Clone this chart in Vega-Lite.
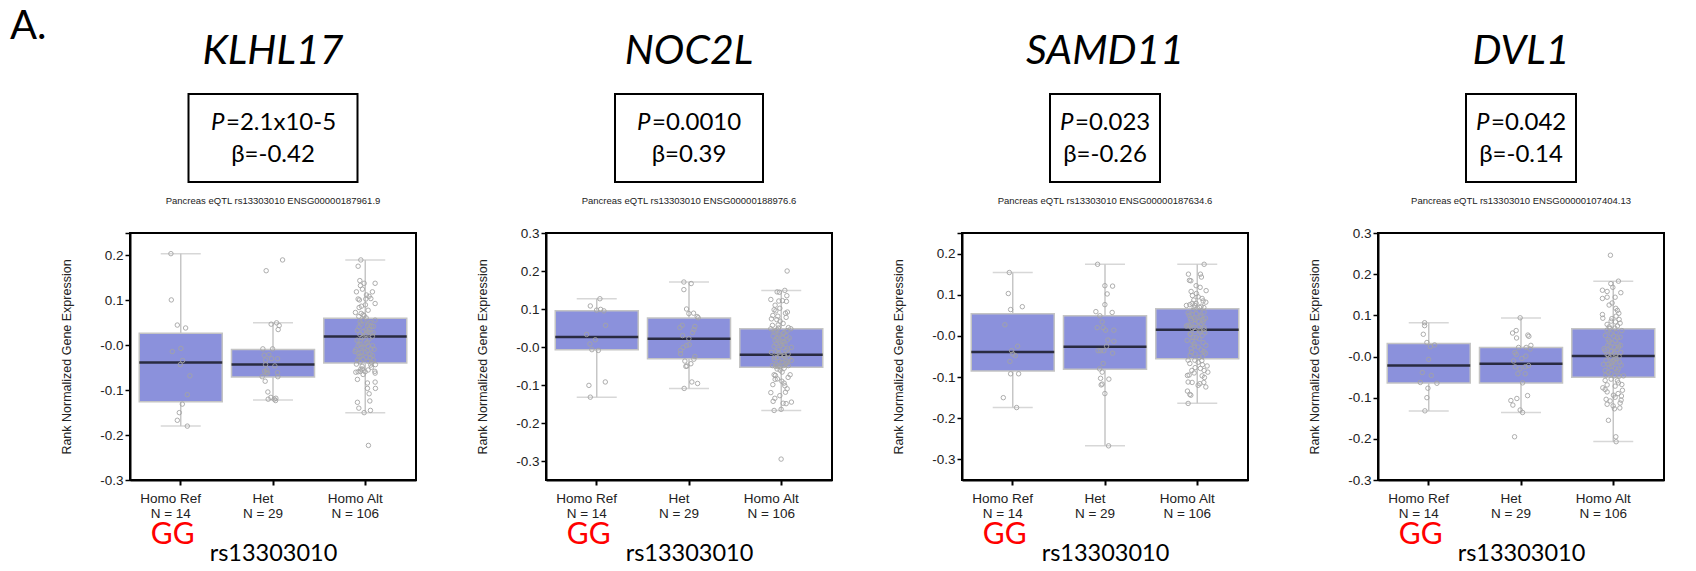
{
"$schema": "https://vega.github.io/schema/vega-lite/v6.json",
"padding": {"left": 10, "top": 7, "right": 5, "bottom": 0},
"background": "white",
"config": {"view": {"stroke": "black", "strokeWidth": 2}, "axis": {"grid": false, "labelFont": "Liberation Sans", "labelFontSize": 13.5, "labelColor": "#222", "labelOverlap": false}, "title": {"color": "black"}},
"title": {"text": "A.", "anchor": "start", "frame": "group", "font": "Lato", "fontSize": 40, "fontWeight": "normal", "color": "black", "dx": -120, "offset": -16},
"spacing": 58,
"datasets": {
"h1": [{"plabel": "P", "pvalue": "=2.1x10-5", "beta": "β=-0.42"}],
"h2": [{"plabel": "P", "pvalue": "=0.0010", "beta": "β=0.39"}],
"h3": [{"plabel": "P", "pvalue": "=0.023", "beta": "β=-0.26"}],
"h4": [{"plabel": "P", "pvalue": "=0.042", "beta": "β=-0.14"}],
"b1": [{"genotype":"Homo Ref","lo":-0.180,"q1":-0.126,"median":-0.0385,"q3":0.0267,"hi":0.204},{"genotype":"Het","lo":-0.122,"q1":-0.0704,"median":-0.043,"q3":-0.0096,"hi":0.050},{"genotype":"Homo Alt","lo":-0.150,"q1":-0.0393,"median":0.0193,"q3":0.060,"hi":0.190}],
"b2": [{"genotype":"Homo Ref","lo":-0.132,"q1":-0.0075,"median":0.026,"q3":0.0953,"hi":0.127},{"genotype":"Het","lo":-0.109,"q1":-0.0312,"median":0.0215,"q3":0.076,"hi":0.171},{"genotype":"Homo Alt","lo":-0.1674,"q1":-0.0531,"median":-0.0207,"q3":0.0478,"hi":0.149}],
"b3": [{"genotype":"Homo Ref","lo":-0.174,"q1":-0.0851,"median":-0.0391,"q3":0.0538,"hi":0.154},{"genotype":"Het","lo":-0.267,"q1":-0.0811,"median":-0.0262,"q3":0.049,"hi":0.174},{"genotype":"Homo Alt","lo":-0.1635,"q1":-0.0552,"median":0.015,"q3":0.0659,"hi":0.174}],
"b4": [{"genotype":"Homo Ref","lo":-0.1322,"q1":-0.0643,"median":-0.0217,"q3":0.0315,"hi":0.0822},{"genotype":"Het","lo":-0.1363,"q1":-0.0643,"median":-0.0176,"q3":0.0217,"hi":0.0937},{"genotype":"Homo Alt","lo":-0.2067,"q1":-0.0504,"median":0.0012,"q3":0.0675,"hi":0.1829}],
"p1": [
{"genotype":"Homo Ref","expression":0.204,"jitter":-9.7},{"genotype":"Homo Ref","expression":0.101,"jitter":-9.3},{"genotype":"Homo Ref","expression":0.045,"jitter":-3.3},{"genotype":"Homo Ref","expression":0.0385,"jitter":5},{"genotype":"Homo Ref","expression":-0.014,"jitter":-8.3},{"genotype":"Homo Ref","expression":-0.007,"jitter":0.3},{"genotype":"Homo Ref","expression":-0.034,"jitter":2},{"genotype":"Homo Ref","expression":-0.043,"jitter":-0.3},{"genotype":"Homo Ref","expression":-0.068,"jitter":9.3},{"genotype":"Homo Ref","expression":-0.110,"jitter":6.7},{"genotype":"Homo Ref","expression":-0.131,"jitter":1.7},{"genotype":"Homo Ref","expression":-0.150,"jitter":-1.3},{"genotype":"Homo Ref","expression":-0.167,"jitter":-3.3},{"genotype":"Homo Ref","expression":-0.180,"jitter":6.7},
{"genotype":"Het","expression":0.190,"jitter":9.7},{"genotype":"Het","expression":0.166,"jitter":-6.7},{"genotype":"Het","expression":0.047,"jitter":-1.7},{"genotype":"Het","expression":0.050,"jitter":3.7},{"genotype":"Het","expression":0.044,"jitter":6.3},{"genotype":"Het","expression":0.035,"jitter":5.3},{"genotype":"Het","expression":-0.008,"jitter":-10},{"genotype":"Het","expression":-0.008,"jitter":-0.3},{"genotype":"Het","expression":-0.022,"jitter":-8.7},{"genotype":"Het","expression":-0.033,"jitter":-7.3},{"genotype":"Het","expression":-0.030,"jitter":-1.3},{"genotype":"Het","expression":-0.030,"jitter":4.7},{"genotype":"Het","expression":-0.043,"jitter":-7.3},{"genotype":"Het","expression":-0.058,"jitter":-8.3},{"genotype":"Het","expression":-0.061,"jitter":-6.7},{"genotype":"Het","expression":-0.062,"jitter":-5.3},{"genotype":"Het","expression":-0.061,"jitter":4.7},{"genotype":"Het","expression":-0.070,"jitter":-10.7},{"genotype":"Het","expression":-0.070,"jitter":5},{"genotype":"Het","expression":-0.080,"jitter":-7.7},{"genotype":"Het","expression":-0.104,"jitter":-5},{"genotype":"Het","expression":-0.116,"jitter":-2},{"genotype":"Het","expression":-0.120,"jitter":-4.7},{"genotype":"Het","expression":-0.120,"jitter":1.3},{"genotype":"Het","expression":-0.118,"jitter":3},{"genotype":"Het","expression":-0.123,"jitter":2.7},{"genotype":"Het","expression":-0.055,"jitter":-6},{"genotype":"Het","expression":-0.046,"jitter":2},{"genotype":"Het","expression":-0.021,"jitter":-4},
{"genotype":"Homo Alt","expression":0.190,"jitter":-4.3},{"genotype":"Homo Alt","expression":0.176,"jitter":-7},{"genotype":"Homo Alt","expression":0.144,"jitter":-5.3},{"genotype":"Homo Alt","expression":0.138,"jitter":-1},{"genotype":"Homo Alt","expression":0.138,"jitter":10},{"genotype":"Homo Alt","expression":0.133,"jitter":-4.7},{"genotype":"Homo Alt","expression":0.125,"jitter":-2.7},{"genotype":"Homo Alt","expression":0.119,"jitter":-8.7},{"genotype":"Homo Alt","expression":0.119,"jitter":7.3},{"genotype":"Homo Alt","expression":0.112,"jitter":1.3},{"genotype":"Homo Alt","expression":0.109,"jitter":4},{"genotype":"Homo Alt","expression":0.104,"jitter":5.7},{"genotype":"Homo Alt","expression":0.103,"jitter":-7},{"genotype":"Homo Alt","expression":0.101,"jitter":-5.7},{"genotype":"Homo Alt","expression":0.103,"jitter":0.7},{"genotype":"Homo Alt","expression":0.093,"jitter":10},{"genotype":"Homo Alt","expression":0.090,"jitter":0.3},{"genotype":"Homo Alt","expression":0.087,"jitter":-3.7},{"genotype":"Homo Alt","expression":0.084,"jitter":-6},{"genotype":"Homo Alt","expression":0.073,"jitter":-9.7},{"genotype":"Homo Alt","expression":0.071,"jitter":-4},{"genotype":"Homo Alt","expression":0.068,"jitter":-2},{"genotype":"Homo Alt","expression":0.064,"jitter":-6.3},{"genotype":"Homo Alt","expression":0.061,"jitter":1},{"genotype":"Homo Alt","expression":0.078,"jitter":3},{"genotype":"Homo Alt","expression":0.066,"jitter":-1},
{"genotype":"Homo Alt","expression":0.056,"jitter":10},{"genotype":"Homo Alt","expression":0.052,"jitter":-5},{"genotype":"Homo Alt","expression":0.051,"jitter":5},{"genotype":"Homo Alt","expression":0.047,"jitter":-4},{"genotype":"Homo Alt","expression":0.044,"jitter":2.3},{"genotype":"Homo Alt","expression":0.042,"jitter":6.3},{"genotype":"Homo Alt","expression":0.042,"jitter":8.3},{"genotype":"Homo Alt","expression":0.033,"jitter":-7.7},{"genotype":"Homo Alt","expression":0.034,"jitter":1},{"genotype":"Homo Alt","expression":0.030,"jitter":3},{"genotype":"Homo Alt","expression":0.027,"jitter":5.7},{"genotype":"Homo Alt","expression":0.024,"jitter":-5.3},{"genotype":"Homo Alt","expression":0.020,"jitter":-1},{"genotype":"Homo Alt","expression":0.020,"jitter":7.3},{"genotype":"Homo Alt","expression":0.010,"jitter":-5},{"genotype":"Homo Alt","expression":0.007,"jitter":2.3},{"genotype":"Homo Alt","expression":-0.001,"jitter":-7},{"genotype":"Homo Alt","expression":-0.001,"jitter":7.3},{"genotype":"Homo Alt","expression":-0.004,"jitter":-3.3},{"genotype":"Homo Alt","expression":-0.010,"jitter":-9.3},{"genotype":"Homo Alt","expression":-0.014,"jitter":-10},{"genotype":"Homo Alt","expression":-0.008,"jitter":5.7},{"genotype":"Homo Alt","expression":-0.018,"jitter":-6.3},{"genotype":"Homo Alt","expression":-0.016,"jitter":0.3},{"genotype":"Homo Alt","expression":-0.023,"jitter":7.3},{"genotype":"Homo Alt","expression":-0.024,"jitter":-4},{"genotype":"Homo Alt","expression":-0.028,"jitter":5},{"genotype":"Homo Alt","expression":-0.033,"jitter":-7.7},{"genotype":"Homo Alt","expression":-0.033,"jitter":8.3},{"genotype":"Homo Alt","expression":-0.038,"jitter":6.3},
{"genotype":"Homo Alt","expression":0.055,"jitter":-2},{"genotype":"Homo Alt","expression":0.048,"jitter":3},{"genotype":"Homo Alt","expression":0.041,"jitter":-6},{"genotype":"Homo Alt","expression":0.036,"jitter":4},{"genotype":"Homo Alt","expression":0.031,"jitter":-2},{"genotype":"Homo Alt","expression":0.028,"jitter":8},{"genotype":"Homo Alt","expression":0.024,"jitter":1},{"genotype":"Homo Alt","expression":0.017,"jitter":-3},{"genotype":"Homo Alt","expression":0.014,"jitter":4},{"genotype":"Homo Alt","expression":0.011,"jitter":-8},{"genotype":"Homo Alt","expression":0.004,"jitter":1},{"genotype":"Homo Alt","expression":0.002,"jitter":-5},{"genotype":"Homo Alt","expression":-0.002,"jitter":3},{"genotype":"Homo Alt","expression":-0.006,"jitter":-1},{"genotype":"Homo Alt","expression":-0.009,"jitter":9},{"genotype":"Homo Alt","expression":-0.012,"jitter":2},{"genotype":"Homo Alt","expression":-0.016,"jitter":-4},{"genotype":"Homo Alt","expression":-0.020,"jitter":5},{"genotype":"Homo Alt","expression":-0.025,"jitter":-6},{"genotype":"Homo Alt","expression":-0.027,"jitter":1},{"genotype":"Homo Alt","expression":-0.031,"jitter":-2},{"genotype":"Homo Alt","expression":-0.035,"jitter":3},{"genotype":"Homo Alt","expression":-0.037,"jitter":-5},
{"genotype":"Homo Alt","expression":-0.042,"jitter":-8.7},{"genotype":"Homo Alt","expression":-0.044,"jitter":5.7},{"genotype":"Homo Alt","expression":-0.043,"jitter":10.3},{"genotype":"Homo Alt","expression":-0.049,"jitter":6.3},{"genotype":"Homo Alt","expression":-0.053,"jitter":-4.3},{"genotype":"Homo Alt","expression":-0.053,"jitter":-2.7},{"genotype":"Homo Alt","expression":-0.060,"jitter":-9.3},{"genotype":"Homo Alt","expression":-0.059,"jitter":-7},{"genotype":"Homo Alt","expression":-0.058,"jitter":-4.7},{"genotype":"Homo Alt","expression":-0.059,"jitter":0},{"genotype":"Homo Alt","expression":-0.058,"jitter":9.7},{"genotype":"Homo Alt","expression":-0.062,"jitter":10},{"genotype":"Homo Alt","expression":-0.076,"jitter":-7.7},{"genotype":"Homo Alt","expression":-0.084,"jitter":2.3},{"genotype":"Homo Alt","expression":-0.082,"jitter":10},{"genotype":"Homo Alt","expression":-0.096,"jitter":2.3},{"genotype":"Homo Alt","expression":-0.096,"jitter":10.3},{"genotype":"Homo Alt","expression":-0.108,"jitter":4},{"genotype":"Homo Alt","expression":-0.127,"jitter":-7.7},{"genotype":"Homo Alt","expression":-0.124,"jitter":4.7},{"genotype":"Homo Alt","expression":-0.140,"jitter":-6.3},{"genotype":"Homo Alt","expression":-0.145,"jitter":5.3},{"genotype":"Homo Alt","expression":-0.150,"jitter":-1},{"genotype":"Homo Alt","expression":-0.223,"jitter":3.3},{"genotype":"Homo Alt","expression":-0.047,"jitter":-3},{"genotype":"Homo Alt","expression":-0.055,"jitter":3},{"genotype":"Homo Alt","expression":-0.065,"jitter":-2}
],
"p2": [
{"genotype":"Homo Ref","expression":0.127,"jitter":3.3},{"genotype":"Homo Ref","expression":0.108,"jitter":-6.3},{"genotype":"Homo Ref","expression":0.097,"jitter":0},{"genotype":"Homo Ref","expression":0.099,"jitter":4},{"genotype":"Homo Ref","expression":0.095,"jitter":7.3},{"genotype":"Homo Ref","expression":0.057,"jitter":9},{"genotype":"Homo Ref","expression":0.033,"jitter":-10},{"genotype":"Homo Ref","expression":0.019,"jitter":-1.3},{"genotype":"Homo Ref","expression":0.008,"jitter":-6.7},{"genotype":"Homo Ref","expression":-0.007,"jitter":-4.7},{"genotype":"Homo Ref","expression":-0.009,"jitter":1.7},{"genotype":"Homo Ref","expression":-0.101,"jitter":-7.7},{"genotype":"Homo Ref","expression":-0.092,"jitter":8.7},{"genotype":"Homo Ref","expression":-0.132,"jitter":-6.3},
{"genotype":"Het","expression":0.171,"jitter":-5},{"genotype":"Het","expression":0.167,"jitter":2.3},{"genotype":"Het","expression":0.151,"jitter":-5},{"genotype":"Het","expression":0.100,"jitter":-2.3},{"genotype":"Het","expression":0.088,"jitter":0},{"genotype":"Het","expression":0.089,"jitter":4.7},{"genotype":"Het","expression":0.080,"jitter":8.3},{"genotype":"Het","expression":0.077,"jitter":9.3},{"genotype":"Het","expression":0.057,"jitter":-6.7},{"genotype":"Het","expression":0.051,"jitter":-9},{"genotype":"Het","expression":0.054,"jitter":6},{"genotype":"Het","expression":0.046,"jitter":5},{"genotype":"Het","expression":0.038,"jitter":3.7},{"genotype":"Het","expression":0.030,"jitter":-6.3},{"genotype":"Het","expression":0.022,"jitter":0},{"genotype":"Het","expression":0.006,"jitter":0.3},{"genotype":"Het","expression":0.004,"jitter":-2.3},{"genotype":"Het","expression":-0.001,"jitter":-5.7},{"genotype":"Het","expression":-0.009,"jitter":-8.3},{"genotype":"Het","expression":-0.018,"jitter":-8.3},{"genotype":"Het","expression":-0.025,"jitter":6},{"genotype":"Het","expression":-0.032,"jitter":5},{"genotype":"Het","expression":-0.037,"jitter":-4},{"genotype":"Het","expression":-0.044,"jitter":2},{"genotype":"Het","expression":-0.051,"jitter":-3},{"genotype":"Het","expression":-0.050,"jitter":-2},{"genotype":"Het","expression":-0.092,"jitter":3},{"genotype":"Het","expression":-0.096,"jitter":8.7},{"genotype":"Het","expression":-0.109,"jitter":-4.7},
{"genotype":"Homo Alt","expression":0.200,"jitter":6},{"genotype":"Homo Alt","expression":0.145,"jitter":-4},{"genotype":"Homo Alt","expression":0.144,"jitter":-1.7},{"genotype":"Homo Alt","expression":0.149,"jitter":3.7},{"genotype":"Homo Alt","expression":0.135,"jitter":5.7},{"genotype":"Homo Alt","expression":0.125,"jitter":-10.3},{"genotype":"Homo Alt","expression":0.121,"jitter":-2.3},{"genotype":"Homo Alt","expression":0.122,"jitter":1.3},{"genotype":"Homo Alt","expression":0.120,"jitter":5.3},{"genotype":"Homo Alt","expression":0.098,"jitter":-7},{"genotype":"Homo Alt","expression":0.095,"jitter":-5.3},{"genotype":"Homo Alt","expression":0.102,"jitter":-1.3},{"genotype":"Homo Alt","expression":0.092,"jitter":6.3},{"genotype":"Homo Alt","expression":0.089,"jitter":4.3},{"genotype":"Homo Alt","expression":0.083,"jitter":-8.3},{"genotype":"Homo Alt","expression":0.081,"jitter":-3.3},{"genotype":"Homo Alt","expression":0.074,"jitter":-9.7},{"genotype":"Homo Alt","expression":0.072,"jitter":-4.3},{"genotype":"Homo Alt","expression":0.057,"jitter":-8.7},{"genotype":"Homo Alt","expression":0.050,"jitter":-2.7},{"genotype":"Homo Alt","expression":0.051,"jitter":7.3},{"genotype":"Homo Alt","expression":0.062,"jitter":2},{"genotype":"Homo Alt","expression":0.068,"jitter":-1},{"genotype":"Homo Alt","expression":0.110,"jitter":-6},{"genotype":"Homo Alt","expression":0.078,"jitter":5},{"genotype":"Homo Alt","expression":0.058,"jitter":-3},
{"genotype":"Homo Alt","expression":0.048,"jitter":-10.3},{"genotype":"Homo Alt","expression":0.048,"jitter":9.7},{"genotype":"Homo Alt","expression":0.042,"jitter":-5.7},{"genotype":"Homo Alt","expression":0.038,"jitter":3},{"genotype":"Homo Alt","expression":0.032,"jitter":-2},{"genotype":"Homo Alt","expression":0.029,"jitter":-8},{"genotype":"Homo Alt","expression":0.023,"jitter":1.7},{"genotype":"Homo Alt","expression":0.022,"jitter":-4.3},{"genotype":"Homo Alt","expression":0.019,"jitter":6.3},{"genotype":"Homo Alt","expression":0.013,"jitter":3},{"genotype":"Homo Alt","expression":0.008,"jitter":-5},{"genotype":"Homo Alt","expression":0.004,"jitter":0},{"genotype":"Homo Alt","expression":-0.001,"jitter":10.3},{"genotype":"Homo Alt","expression":-0.005,"jitter":6.7},{"genotype":"Homo Alt","expression":-0.014,"jitter":-9.7},{"genotype":"Homo Alt","expression":-0.015,"jitter":-2.3},{"genotype":"Homo Alt","expression":-0.021,"jitter":3},{"genotype":"Homo Alt","expression":-0.027,"jitter":-6.7},{"genotype":"Homo Alt","expression":-0.030,"jitter":8},{"genotype":"Homo Alt","expression":-0.035,"jitter":10.3},{"genotype":"Homo Alt","expression":-0.037,"jitter":5.7},{"genotype":"Homo Alt","expression":-0.040,"jitter":0.7},{"genotype":"Homo Alt","expression":-0.044,"jitter":4.7},{"genotype":"Homo Alt","expression":-0.049,"jitter":-8.7},{"genotype":"Homo Alt","expression":-0.051,"jitter":-5.7},{"genotype":"Homo Alt","expression":-0.051,"jitter":-3.3},{"genotype":"Homo Alt","expression":-0.049,"jitter":7.3},
{"genotype":"Homo Alt","expression":0.045,"jitter":-4},{"genotype":"Homo Alt","expression":0.043,"jitter":6},{"genotype":"Homo Alt","expression":0.039,"jitter":-7},{"genotype":"Homo Alt","expression":0.035,"jitter":2},{"genotype":"Homo Alt","expression":0.030,"jitter":5},{"genotype":"Homo Alt","expression":0.026,"jitter":-3},{"genotype":"Homo Alt","expression":0.024,"jitter":8},{"genotype":"Homo Alt","expression":0.017,"jitter":-6},{"genotype":"Homo Alt","expression":0.015,"jitter":1},{"genotype":"Homo Alt","expression":0.010,"jitter":-1},{"genotype":"Homo Alt","expression":0.006,"jitter":4},{"genotype":"Homo Alt","expression":0.002,"jitter":-7},{"genotype":"Homo Alt","expression":-0.002,"jitter":2},{"genotype":"Homo Alt","expression":-0.007,"jitter":-3},{"genotype":"Homo Alt","expression":-0.009,"jitter":5},{"genotype":"Homo Alt","expression":-0.012,"jitter":-5},{"genotype":"Homo Alt","expression":-0.018,"jitter":7},{"genotype":"Homo Alt","expression":-0.022,"jitter":-1},{"genotype":"Homo Alt","expression":-0.025,"jitter":3},{"genotype":"Homo Alt","expression":-0.028,"jitter":-4},{"genotype":"Homo Alt","expression":-0.031,"jitter":1},{"genotype":"Homo Alt","expression":-0.033,"jitter":-7},{"genotype":"Homo Alt","expression":-0.038,"jitter":-2},{"genotype":"Homo Alt","expression":-0.042,"jitter":6},{"genotype":"Homo Alt","expression":-0.046,"jitter":-5},{"genotype":"Homo Alt","expression":-0.049,"jitter":2},{"genotype":"Homo Alt","expression":-0.052,"jitter":-1},
{"genotype":"Homo Alt","expression":-0.061,"jitter":-1},{"genotype":"Homo Alt","expression":-0.073,"jitter":-7},{"genotype":"Homo Alt","expression":-0.075,"jitter":-5.7},{"genotype":"Homo Alt","expression":-0.073,"jitter":9},{"genotype":"Homo Alt","expression":-0.080,"jitter":7},{"genotype":"Homo Alt","expression":-0.084,"jitter":-3.7},{"genotype":"Homo Alt","expression":-0.090,"jitter":0.7},{"genotype":"Homo Alt","expression":-0.095,"jitter":3},{"genotype":"Homo Alt","expression":-0.099,"jitter":-8.3},{"genotype":"Homo Alt","expression":-0.102,"jitter":3.7},{"genotype":"Homo Alt","expression":-0.119,"jitter":4.3},{"genotype":"Homo Alt","expression":-0.120,"jitter":-10.3},{"genotype":"Homo Alt","expression":-0.128,"jitter":-1.3},{"genotype":"Homo Alt","expression":-0.135,"jitter":-6.3},{"genotype":"Homo Alt","expression":-0.143,"jitter":-8},{"genotype":"Homo Alt","expression":-0.148,"jitter":2},{"genotype":"Homo Alt","expression":-0.149,"jitter":5},{"genotype":"Homo Alt","expression":-0.145,"jitter":10.3},{"genotype":"Homo Alt","expression":-0.167,"jitter":-7},{"genotype":"Homo Alt","expression":-0.164,"jitter":0},{"genotype":"Homo Alt","expression":-0.295,"jitter":0},{"genotype":"Homo Alt","expression":-0.056,"jitter":3},{"genotype":"Homo Alt","expression":-0.058,"jitter":-4},{"genotype":"Homo Alt","expression":-0.066,"jitter":1},{"genotype":"Homo Alt","expression":-0.085,"jitter":-6},{"genotype":"Homo Alt","expression":-0.110,"jitter":6}
],
"p3": [
{"genotype":"Homo Ref","expression":0.154,"jitter":-3.3},{"genotype":"Homo Ref","expression":0.103,"jitter":-4.3},{"genotype":"Homo Ref","expression":0.064,"jitter":-2},{"genotype":"Homo Ref","expression":0.071,"jitter":9.7},{"genotype":"Homo Ref","expression":0.027,"jitter":-7.7},{"genotype":"Homo Ref","expression":-0.025,"jitter":5},{"genotype":"Homo Ref","expression":-0.044,"jitter":0.3},{"genotype":"Homo Ref","expression":-0.048,"jitter":2.7},{"genotype":"Homo Ref","expression":-0.062,"jitter":-2.7},{"genotype":"Homo Ref","expression":-0.092,"jitter":-2},{"genotype":"Homo Ref","expression":-0.092,"jitter":6},{"genotype":"Homo Ref","expression":-0.150,"jitter":-9.3},{"genotype":"Homo Ref","expression":-0.174,"jitter":4},{"genotype":"Homo Ref","expression":-0.036,"jitter":-1},
{"genotype":"Het","expression":0.174,"jitter":-7.3},{"genotype":"Het","expression":0.122,"jitter":0},{"genotype":"Het","expression":0.121,"jitter":7.7},{"genotype":"Het","expression":0.102,"jitter":2.3},{"genotype":"Het","expression":0.076,"jitter":0},{"genotype":"Het","expression":0.059,"jitter":-9},{"genotype":"Het","expression":0.057,"jitter":7.3},{"genotype":"Het","expression":0.049,"jitter":-5},{"genotype":"Het","expression":0.034,"jitter":-2.7},{"genotype":"Het","expression":0.020,"jitter":-7.7},{"genotype":"Het","expression":0.020,"jitter":-1.7},{"genotype":"Het","expression":0.014,"jitter":0.7},{"genotype":"Het","expression":0.014,"jitter":9},{"genotype":"Het","expression":-0.013,"jitter":9},{"genotype":"Het","expression":-0.025,"jitter":1.7},{"genotype":"Het","expression":-0.036,"jitter":-6.7},{"genotype":"Het","expression":-0.036,"jitter":-4.3},{"genotype":"Het","expression":-0.036,"jitter":-1},{"genotype":"Het","expression":-0.042,"jitter":7.7},{"genotype":"Het","expression":-0.067,"jitter":-1.7},{"genotype":"Het","expression":-0.080,"jitter":-5.3},{"genotype":"Het","expression":-0.088,"jitter":-2.7},{"genotype":"Het","expression":-0.103,"jitter":-4.3},{"genotype":"Het","expression":-0.105,"jitter":4},{"genotype":"Het","expression":-0.117,"jitter":-2.7},{"genotype":"Het","expression":-0.119,"jitter":-3.7},{"genotype":"Het","expression":-0.140,"jitter":0},{"genotype":"Het","expression":-0.267,"jitter":3.7},{"genotype":"Het","expression":-0.010,"jitter":3},
{"genotype":"Homo Alt","expression":0.174,"jitter":7},{"genotype":"Homo Alt","expression":0.150,"jitter":-8.7},{"genotype":"Homo Alt","expression":0.150,"jitter":3.3},{"genotype":"Homo Alt","expression":0.143,"jitter":4.3},{"genotype":"Homo Alt","expression":0.135,"jitter":-7.7},{"genotype":"Homo Alt","expression":0.134,"jitter":-6.3},{"genotype":"Homo Alt","expression":0.122,"jitter":-1},{"genotype":"Homo Alt","expression":0.103,"jitter":-0.7},{"genotype":"Homo Alt","expression":0.098,"jitter":-4.7},{"genotype":"Homo Alt","expression":0.091,"jitter":5},{"genotype":"Homo Alt","expression":0.087,"jitter":-3.3},{"genotype":"Homo Alt","expression":0.082,"jitter":8.7},{"genotype":"Homo Alt","expression":0.074,"jitter":-10.7},{"genotype":"Homo Alt","expression":0.076,"jitter":-7.3},{"genotype":"Homo Alt","expression":0.079,"jitter":-5},{"genotype":"Homo Alt","expression":0.074,"jitter":-2.3},{"genotype":"Homo Alt","expression":0.069,"jitter":2.7},{"genotype":"Homo Alt","expression":0.069,"jitter":6.7},{"genotype":"Homo Alt","expression":0.118,"jitter":3},{"genotype":"Homo Alt","expression":0.108,"jitter":-6},{"genotype":"Homo Alt","expression":0.095,"jitter":1},{"genotype":"Homo Alt","expression":0.085,"jitter":6},{"genotype":"Homo Alt","expression":0.079,"jitter":-1},{"genotype":"Homo Alt","expression":0.072,"jitter":4},{"genotype":"Homo Alt","expression":0.068,"jitter":-3},{"genotype":"Homo Alt","expression":0.110,"jitter":9},
{"genotype":"Homo Alt","expression":0.056,"jitter":-9},{"genotype":"Homo Alt","expression":0.051,"jitter":-5},{"genotype":"Homo Alt","expression":0.048,"jitter":4},{"genotype":"Homo Alt","expression":0.043,"jitter":8.3},{"genotype":"Homo Alt","expression":0.042,"jitter":-6.7},{"genotype":"Homo Alt","expression":0.039,"jitter":-1.7},{"genotype":"Homo Alt","expression":0.034,"jitter":6},{"genotype":"Homo Alt","expression":0.024,"jitter":-10.7},{"genotype":"Homo Alt","expression":0.024,"jitter":-7.3},{"genotype":"Homo Alt","expression":0.021,"jitter":-3.3},{"genotype":"Homo Alt","expression":0.021,"jitter":6.7},{"genotype":"Homo Alt","expression":0.013,"jitter":2.7},{"genotype":"Homo Alt","expression":0.003,"jitter":-6.7},{"genotype":"Homo Alt","expression":-0.003,"jitter":-4},{"genotype":"Homo Alt","expression":0.008,"jitter":7.7},{"genotype":"Homo Alt","expression":-0.011,"jitter":-10},{"genotype":"Homo Alt","expression":-0.025,"jitter":-3},{"genotype":"Homo Alt","expression":-0.023,"jitter":8.7},{"genotype":"Homo Alt","expression":-0.038,"jitter":6.7},{"genotype":"Homo Alt","expression":-0.042,"jitter":8.3},{"genotype":"Homo Alt","expression":-0.039,"jitter":-5.7},{"genotype":"Homo Alt","expression":-0.050,"jitter":5.3},
{"genotype":"Homo Alt","expression":0.062,"jitter":-4},{"genotype":"Homo Alt","expression":0.060,"jitter":2},{"genotype":"Homo Alt","expression":0.058,"jitter":7},{"genotype":"Homo Alt","expression":0.054,"jitter":-1},{"genotype":"Homo Alt","expression":0.050,"jitter":-8},{"genotype":"Homo Alt","expression":0.046,"jitter":3},{"genotype":"Homo Alt","expression":0.044,"jitter":-3},{"genotype":"Homo Alt","expression":0.040,"jitter":6},{"genotype":"Homo Alt","expression":0.037,"jitter":-6},{"genotype":"Homo Alt","expression":0.035,"jitter":1},{"genotype":"Homo Alt","expression":0.030,"jitter":-2},{"genotype":"Homo Alt","expression":0.028,"jitter":4},{"genotype":"Homo Alt","expression":0.026,"jitter":-9},{"genotype":"Homo Alt","expression":0.022,"jitter":2},{"genotype":"Homo Alt","expression":0.018,"jitter":-5},{"genotype":"Homo Alt","expression":0.016,"jitter":7},{"genotype":"Homo Alt","expression":0.011,"jitter":-2},{"genotype":"Homo Alt","expression":0.009,"jitter":3},{"genotype":"Homo Alt","expression":0.005,"jitter":-7},{"genotype":"Homo Alt","expression":0.001,"jitter":5},{"genotype":"Homo Alt","expression":-0.004,"jitter":-1},{"genotype":"Homo Alt","expression":-0.007,"jitter":2},{"genotype":"Homo Alt","expression":-0.013,"jitter":-5},{"genotype":"Homo Alt","expression":-0.016,"jitter":6},{"genotype":"Homo Alt","expression":-0.019,"jitter":-3},{"genotype":"Homo Alt","expression":-0.027,"jitter":1},{"genotype":"Homo Alt","expression":-0.031,"jitter":-6},{"genotype":"Homo Alt","expression":-0.034,"jitter":4},{"genotype":"Homo Alt","expression":-0.044,"jitter":-2},{"genotype":"Homo Alt","expression":-0.047,"jitter":-7},{"genotype":"Homo Alt","expression":-0.052,"jitter":2},
{"genotype":"Homo Alt","expression":-0.059,"jitter":-9},{"genotype":"Homo Alt","expression":-0.059,"jitter":-2.3},{"genotype":"Homo Alt","expression":-0.060,"jitter":4.7},{"genotype":"Homo Alt","expression":-0.067,"jitter":-7.3},{"genotype":"Homo Alt","expression":-0.070,"jitter":5.3},{"genotype":"Homo Alt","expression":-0.073,"jitter":10},{"genotype":"Homo Alt","expression":-0.084,"jitter":-5.3},{"genotype":"Homo Alt","expression":-0.079,"jitter":3.3},{"genotype":"Homo Alt","expression":-0.084,"jitter":7},{"genotype":"Homo Alt","expression":-0.088,"jitter":10.7},{"genotype":"Homo Alt","expression":-0.096,"jitter":-9.7},{"genotype":"Homo Alt","expression":-0.095,"jitter":-8},{"genotype":"Homo Alt","expression":-0.097,"jitter":5},{"genotype":"Homo Alt","expression":-0.101,"jitter":7.3},{"genotype":"Homo Alt","expression":-0.112,"jitter":-9},{"genotype":"Homo Alt","expression":-0.113,"jitter":-5},{"genotype":"Homo Alt","expression":-0.116,"jitter":2.7},{"genotype":"Homo Alt","expression":-0.113,"jitter":6.7},{"genotype":"Homo Alt","expression":-0.120,"jitter":1},{"genotype":"Homo Alt","expression":-0.124,"jitter":8.7},{"genotype":"Homo Alt","expression":-0.134,"jitter":-9.7},{"genotype":"Homo Alt","expression":-0.142,"jitter":-7.3},{"genotype":"Homo Alt","expression":-0.144,"jitter":-6.3},{"genotype":"Homo Alt","expression":-0.164,"jitter":-9},{"genotype":"Homo Alt","expression":-0.064,"jitter":1},{"genotype":"Homo Alt","expression":-0.090,"jitter":-3},{"genotype":"Homo Alt","expression":-0.077,"jitter":-2}
],
"p4": [
{"genotype":"Homo Ref","expression":0.082,"jitter":-4},{"genotype":"Homo Ref","expression":0.075,"jitter":-4},{"genotype":"Homo Ref","expression":0.054,"jitter":-5.3},{"genotype":"Homo Ref","expression":0.034,"jitter":-1.7},{"genotype":"Homo Ref","expression":0.024,"jitter":1.7},{"genotype":"Homo Ref","expression":0.028,"jitter":6},{"genotype":"Homo Ref","expression":-0.007,"jitter":0},{"genotype":"Homo Ref","expression":-0.039,"jitter":-6.3},{"genotype":"Homo Ref","expression":-0.046,"jitter":2.7},{"genotype":"Homo Ref","expression":-0.063,"jitter":-8.3},{"genotype":"Homo Ref","expression":-0.065,"jitter":8.3},{"genotype":"Homo Ref","expression":-0.077,"jitter":-0.7},{"genotype":"Homo Ref","expression":-0.100,"jitter":-1.7},{"genotype":"Homo Ref","expression":-0.132,"jitter":-3.7},
{"genotype":"Het","expression":0.094,"jitter":-0.7},{"genotype":"Het","expression":0.063,"jitter":-4.7},{"genotype":"Het","expression":0.057,"jitter":-8.3},{"genotype":"Het","expression":0.052,"jitter":7},{"genotype":"Het","expression":0.049,"jitter":8},{"genotype":"Het","expression":0.045,"jitter":-4.3},{"genotype":"Het","expression":0.027,"jitter":10},{"genotype":"Het","expression":0.022,"jitter":-2.3},{"genotype":"Het","expression":0.018,"jitter":9.3},{"genotype":"Het","expression":0.022,"jitter":5.3},{"genotype":"Het","expression":0.005,"jitter":-4.7},{"genotype":"Het","expression":0.001,"jitter":5},{"genotype":"Het","expression":-0.011,"jitter":-7.3},{"genotype":"Het","expression":-0.025,"jitter":-5.7},{"genotype":"Het","expression":-0.022,"jitter":7.7},{"genotype":"Het","expression":-0.025,"jitter":4.3},{"genotype":"Het","expression":-0.042,"jitter":-3},{"genotype":"Het","expression":-0.042,"jitter":4.3},{"genotype":"Het","expression":-0.064,"jitter":1.7},{"genotype":"Het","expression":-0.095,"jitter":6.7},{"genotype":"Het","expression":-0.102,"jitter":-4},{"genotype":"Het","expression":-0.107,"jitter":-10},{"genotype":"Het","expression":-0.118,"jitter":-8},{"genotype":"Het","expression":-0.130,"jitter":-0.7},{"genotype":"Het","expression":-0.136,"jitter":1.7},{"genotype":"Het","expression":-0.195,"jitter":-6.3},{"genotype":"Het","expression":-0.030,"jitter":-1},{"genotype":"Het","expression":-0.005,"jitter":1},{"genotype":"Het","expression":0.010,"jitter":-6},
{"genotype":"Homo Alt","expression":0.246,"jitter":-2.7},{"genotype":"Homo Alt","expression":0.183,"jitter":5.3},{"genotype":"Homo Alt","expression":0.177,"jitter":-2.3},{"genotype":"Homo Alt","expression":0.168,"jitter":-0.3},{"genotype":"Homo Alt","expression":0.161,"jitter":-10.7},{"genotype":"Homo Alt","expression":0.158,"jitter":-6},{"genotype":"Homo Alt","expression":0.155,"jitter":7.7},{"genotype":"Homo Alt","expression":0.141,"jitter":-10.7},{"genotype":"Homo Alt","expression":0.144,"jitter":-6},{"genotype":"Homo Alt","expression":0.144,"jitter":2},{"genotype":"Homo Alt","expression":0.130,"jitter":-1},{"genotype":"Homo Alt","expression":0.117,"jitter":2.7},{"genotype":"Homo Alt","expression":0.112,"jitter":4.3},{"genotype":"Homo Alt","expression":0.105,"jitter":5.7},{"genotype":"Homo Alt","expression":0.102,"jitter":-10.7},{"genotype":"Homo Alt","expression":0.093,"jitter":-10.3},{"genotype":"Homo Alt","expression":0.092,"jitter":-1.3},{"genotype":"Homo Alt","expression":0.090,"jitter":6},{"genotype":"Homo Alt","expression":0.084,"jitter":2.3},{"genotype":"Homo Alt","expression":0.081,"jitter":7},{"genotype":"Homo Alt","expression":0.074,"jitter":4.3},{"genotype":"Homo Alt","expression":0.069,"jitter":1.7},{"genotype":"Homo Alt","expression":0.125,"jitter":-4},{"genotype":"Homo Alt","expression":0.098,"jitter":3},{"genotype":"Homo Alt","expression":0.086,"jitter":-2},{"genotype":"Homo Alt","expression":0.078,"jitter":-6},{"genotype":"Homo Alt","expression":0.072,"jitter":-4},
{"genotype":"Homo Alt","expression":0.068,"jitter":-3.3},{"genotype":"Homo Alt","expression":0.063,"jitter":8.7},{"genotype":"Homo Alt","expression":0.051,"jitter":-7.7},{"genotype":"Homo Alt","expression":0.050,"jitter":0.3},{"genotype":"Homo Alt","expression":0.045,"jitter":4.3},{"genotype":"Homo Alt","expression":0.037,"jitter":-3.7},{"genotype":"Homo Alt","expression":0.027,"jitter":7.3},{"genotype":"Homo Alt","expression":0.027,"jitter":-5.3},{"genotype":"Homo Alt","expression":0.022,"jitter":1.7},{"genotype":"Homo Alt","expression":0.023,"jitter":5.3},{"genotype":"Homo Alt","expression":0.014,"jitter":-8},{"genotype":"Homo Alt","expression":0.012,"jitter":-1.7},{"genotype":"Homo Alt","expression":0.010,"jitter":7.7},{"genotype":"Homo Alt","expression":0.002,"jitter":-4.7},{"genotype":"Homo Alt","expression":0.002,"jitter":2.7},{"genotype":"Homo Alt","expression":-0.008,"jitter":1},{"genotype":"Homo Alt","expression":-0.019,"jitter":-9.7},{"genotype":"Homo Alt","expression":-0.019,"jitter":-4.7},{"genotype":"Homo Alt","expression":-0.014,"jitter":2.7},{"genotype":"Homo Alt","expression":-0.014,"jitter":6.3},{"genotype":"Homo Alt","expression":-0.024,"jitter":-1.3},{"genotype":"Homo Alt","expression":-0.031,"jitter":5},{"genotype":"Homo Alt","expression":-0.039,"jitter":-5},{"genotype":"Homo Alt","expression":-0.047,"jitter":10.3},{"genotype":"Homo Alt","expression":-0.047,"jitter":1.3},{"genotype":"Homo Alt","expression":-0.045,"jitter":-7.3},
{"genotype":"Homo Alt","expression":0.064,"jitter":-6},{"genotype":"Homo Alt","expression":0.058,"jitter":3},{"genotype":"Homo Alt","expression":0.055,"jitter":-2},{"genotype":"Homo Alt","expression":0.047,"jitter":7},{"genotype":"Homo Alt","expression":0.041,"jitter":-5},{"genotype":"Homo Alt","expression":0.039,"jitter":2},{"genotype":"Homo Alt","expression":0.033,"jitter":-1},{"genotype":"Homo Alt","expression":0.030,"jitter":5},{"genotype":"Homo Alt","expression":0.024,"jitter":-3},{"genotype":"Homo Alt","expression":0.019,"jitter":-9},{"genotype":"Homo Alt","expression":0.017,"jitter":4},{"genotype":"Homo Alt","expression":0.013,"jitter":-2},{"genotype":"Homo Alt","expression":0.008,"jitter":1},{"genotype":"Homo Alt","expression":0.005,"jitter":-6},{"genotype":"Homo Alt","expression":0.000,"jitter":6},{"genotype":"Homo Alt","expression":-0.003,"jitter":-3},{"genotype":"Homo Alt","expression":-0.005,"jitter":3},{"genotype":"Homo Alt","expression":-0.010,"jitter":-7},{"genotype":"Homo Alt","expression":-0.012,"jitter":0},{"genotype":"Homo Alt","expression":-0.016,"jitter":-2},{"genotype":"Homo Alt","expression":-0.021,"jitter":8},{"genotype":"Homo Alt","expression":-0.026,"jitter":-4},{"genotype":"Homo Alt","expression":-0.029,"jitter":2},{"genotype":"Homo Alt","expression":-0.034,"jitter":-8},{"genotype":"Homo Alt","expression":-0.036,"jitter":4},{"genotype":"Homo Alt","expression":-0.042,"jitter":-2},{"genotype":"Homo Alt","expression":-0.048,"jitter":6},
{"genotype":"Homo Alt","expression":-0.059,"jitter":4.3},{"genotype":"Homo Alt","expression":-0.064,"jitter":5.3},{"genotype":"Homo Alt","expression":-0.069,"jitter":-6},{"genotype":"Homo Alt","expression":-0.076,"jitter":-10.3},{"genotype":"Homo Alt","expression":-0.068,"jitter":8.7},{"genotype":"Homo Alt","expression":-0.080,"jitter":-8},{"genotype":"Homo Alt","expression":-0.082,"jitter":9.3},{"genotype":"Homo Alt","expression":-0.086,"jitter":-6},{"genotype":"Homo Alt","expression":-0.094,"jitter":0.3},{"genotype":"Homo Alt","expression":-0.099,"jitter":2},{"genotype":"Homo Alt","expression":-0.096,"jitter":8.3},{"genotype":"Homo Alt","expression":-0.104,"jitter":-7},{"genotype":"Homo Alt","expression":-0.106,"jitter":8},{"genotype":"Homo Alt","expression":-0.116,"jitter":-6},{"genotype":"Homo Alt","expression":-0.113,"jitter":7},{"genotype":"Homo Alt","expression":-0.127,"jitter":1.3},{"genotype":"Homo Alt","expression":-0.125,"jitter":6.7},{"genotype":"Homo Alt","expression":-0.155,"jitter":-4.7},{"genotype":"Homo Alt","expression":-0.195,"jitter":2.7},{"genotype":"Homo Alt","expression":-0.207,"jitter":3},{"genotype":"Homo Alt","expression":-0.055,"jitter":-2},{"genotype":"Homo Alt","expression":-0.058,"jitter":-8},{"genotype":"Homo Alt","expression":-0.072,"jitter":2},{"genotype":"Homo Alt","expression":-0.090,"jitter":5},{"genotype":"Homo Alt","expression":-0.108,"jitter":-3},{"genotype":"Homo Alt","expression":-0.120,"jitter":0}
]
},
"hconcat": [
{
"vconcat": [
{"width": 169, "height": 88, "data": {"name": "h1"},
 "title": {"text": "KLHL17", "frame": "group", "anchor": "middle", "font": "Lato", "fontSize": 41, "fontStyle": "italic", "fontWeight": "normal", "color": "black", "offset": 20},
 "layer": [
  {"mark": {"type": "rect", "fill": "transparent", "stroke": "black", "strokeWidth": 2}, "encoding": {}},
  {"mark": {"type": "text", "font": "Lato", "fontSize": 24, "fontStyle": "italic", "align": "left", "baseline": "middle", "dx": -62, "dy": -15, "color": "black"}, "encoding": {"text": {"field": "plabel"}}},
  {"mark": {"type": "text", "font": "Lato", "fontSize": 24, "align": "left", "baseline": "middle", "dx": -47, "dy": -15, "color": "black"}, "encoding": {"text": {"field": "pvalue"}}},
  {"mark": {"type": "text", "font": "Lato", "fontSize": 24, "align": "center", "baseline": "middle", "dy": 17, "color": "black"}, "encoding": {"text": {"field": "beta"}}}
 ]},
{"width": 286, "height": 247,
 "title": {"text": "Pancreas eQTL rs13303010 ENSG00000187961.9", "frame": "group", "anchor": "middle", "font": "Liberation Sans", "fontSize": 9.5, "fontWeight": "normal", "color": "#222", "offset": 21},
 "encoding": {"x": {"field": "genotype", "type": "nominal", "scale": {"type": "band", "domain": ["Homo Ref", "Het", "Homo Alt"], "paddingInner": 0, "paddingOuter": 0.05}, "axis": null}},
 "layer": [
  {"data": {"name": "b1"}, "mark": {"type": "rule", "color": "#c6c6c6", "strokeWidth": 1.5},
   "encoding": {"x": {"field": "genotype", "type": "nominal", "scale": {"type": "band", "domain": ["Homo Ref", "Het", "Homo Alt"], "paddingInner": 0, "paddingOuter": 0.05},
     "axis": {"orient": "bottom", "title": "rs13303010", "labelExpr": "datum.value == 'Homo Ref' ? 'GG' : ''", "labelAngle": 0, "labelFont": "Lato", "labelFontSize": 30, "labelColor": "red", "labelOffset": -8, "labelPadding": 2, "ticks": false, "tickSize": 0, "domain": false, "offset": 37, "titleFont": "Lato", "titleFontSize": 23.5, "titleFontWeight": "normal", "titleColor": "black", "titlePadding": -8}},
    "y": {"field": "lo", "type": "quantitative", "scale": {"domain": [-0.3, 0.25], "nice": false, "zero": false}}, "y2": {"field": "hi"}}},
  {"data": {"name": "b1"}, "mark": {"type": "tick", "color": "#c6c6c6", "size": 40, "thickness": 1.5},
   "encoding": {"y": {"field": "lo", "type": "quantitative", "scale": {"domain": [-0.3, 0.25], "nice": false, "zero": false}}}},
  {"data": {"name": "b1"}, "mark": {"type": "tick", "color": "#c6c6c6", "size": 40, "thickness": 1.5},
   "encoding": {"y": {"field": "hi", "type": "quantitative", "scale": {"domain": [-0.3, 0.25], "nice": false, "zero": false}}}},
  {"data": {"name": "b1"}, "mark": {"type": "bar", "size": 83, "fill": "#8b91dc", "stroke": "#c4c4c4", "strokeWidth": 1.5},
   "encoding": {"x": {"field": "genotype", "type": "nominal", "scale": {"type": "band", "domain": ["Homo Ref", "Het", "Homo Alt"], "paddingInner": 0, "paddingOuter": 0.05},
     "axis": {"orient": "bottom", "title": null, "labelExpr": "datum.value == 'Homo Ref' ? ['Homo Ref', 'N = 14'] : (datum.value == 'Het' ? ['Het', 'N = 29'] : ['Homo Alt', 'N = 106'])", "labelAngle": 0, "labelFont": "Liberation Sans", "labelFontSize": 13.5, "labelLineHeight": 15, "labelColor": "#222", "labelOffset": -10, "labelPadding": 6, "tickSize": 5, "tickWidth": 2, "tickColor": "black", "domainColor": "black", "domainWidth": 2}},
    "y": {"field": "q1", "type": "quantitative", "scale": {"domain": [-0.3, 0.25], "nice": false, "zero": false},
     "axis": {"title": "Rank Normalized Gene Expression", "values": [-0.3, -0.2, -0.1, 0, 0.1, 0.2, 0.25], "labelOverlap": false, "labelExpr": "abs(datum.value) < 0.000001 ? '-0.0' : (abs(datum.value * 10 - round(datum.value * 10)) > 0.000001 ? '' : (datum.value < 0 ? '-' : '') + format(abs(datum.value), '.1f'))", "labelFont": "Liberation Sans", "labelFontSize": 13.5, "labelColor": "#222", "labelPadding": 2, "tickSize": 5, "tickWidth": 1.5, "tickColor": "black", "domainColor": "black", "domainWidth": 2, "titleFont": "Liberation Sans", "titleFontSize": 12.5, "titleFontWeight": "normal", "titleColor": "#222", "titlePadding": 26}},
    "y2": {"field": "q3"}}},
  {"data": {"name": "b1"}, "mark": {"type": "tick", "color": "black", "size": 83, "thickness": 2.5},
   "encoding": {"y": {"field": "median", "type": "quantitative", "scale": {"domain": [-0.3, 0.25], "nice": false, "zero": false}}}},
  {"data": {"name": "p1"}, "mark": {"type": "point", "filled": false, "color": "#a4a4a4", "size": 20, "strokeWidth": 0.9, "opacity": 1},
   "encoding": {"y": {"field": "expression", "type": "quantitative", "scale": {"domain": [-0.3, 0.25], "nice": false, "zero": false}},
    "xOffset": {"field": "jitter", "type": "quantitative", "scale": {"domain": [-46, 46], "range": [0, 92]}}}}
 ],
 "resolve": {"axis": {"x": "independent"}}}
],
"spacing": 51, "bounds": "flush", "center": true
},
{
"vconcat": [
{"width": 148, "height": 88, "data": {"name": "h2"},
 "title": {"text": "NOC2L", "frame": "group", "anchor": "middle", "font": "Lato", "fontSize": 41, "fontStyle": "italic", "fontWeight": "normal", "color": "black", "offset": 20},
 "layer": [
  {"mark": {"type": "rect", "fill": "transparent", "stroke": "black", "strokeWidth": 2}, "encoding": {}},
  {"mark": {"type": "text", "font": "Lato", "fontSize": 24, "fontStyle": "italic", "align": "left", "baseline": "middle", "dx": -52, "dy": -15, "color": "black"}, "encoding": {"text": {"field": "plabel"}}},
  {"mark": {"type": "text", "font": "Lato", "fontSize": 24, "align": "left", "baseline": "middle", "dx": -37, "dy": -15, "color": "black"}, "encoding": {"text": {"field": "pvalue"}}},
  {"mark": {"type": "text", "font": "Lato", "fontSize": 24, "align": "center", "baseline": "middle", "dy": 17, "color": "black"}, "encoding": {"text": {"field": "beta"}}}
 ]},
{"width": 286, "height": 247,
 "title": {"text": "Pancreas eQTL rs13303010 ENSG00000188976.6", "frame": "group", "anchor": "middle", "font": "Liberation Sans", "fontSize": 9.5, "fontWeight": "normal", "color": "#222", "offset": 21},
 "encoding": {"x": {"field": "genotype", "type": "nominal", "scale": {"type": "band", "domain": ["Homo Ref", "Het", "Homo Alt"], "paddingInner": 0, "paddingOuter": 0.05}, "axis": null}},
 "layer": [
  {"data": {"name": "b2"}, "mark": {"type": "rule", "color": "#c6c6c6", "strokeWidth": 1.5},
   "encoding": {"x": {"field": "genotype", "type": "nominal", "scale": {"type": "band", "domain": ["Homo Ref", "Het", "Homo Alt"], "paddingInner": 0, "paddingOuter": 0.05},
     "axis": {"orient": "bottom", "title": "rs13303010", "labelExpr": "datum.value == 'Homo Ref' ? 'GG' : ''", "labelAngle": 0, "labelFont": "Lato", "labelFontSize": 30, "labelColor": "red", "labelOffset": -8, "labelPadding": 2, "ticks": false, "tickSize": 0, "domain": false, "offset": 37, "titleFont": "Lato", "titleFontSize": 23.5, "titleFontWeight": "normal", "titleColor": "black", "titlePadding": -8}},
    "y": {"field": "lo", "type": "quantitative", "scale": {"domain": [-0.35, 0.3], "nice": false, "zero": false}}, "y2": {"field": "hi"}}},
  {"data": {"name": "b2"}, "mark": {"type": "tick", "color": "#c6c6c6", "size": 40, "thickness": 1.5},
   "encoding": {"y": {"field": "lo", "type": "quantitative", "scale": {"domain": [-0.35, 0.3], "nice": false, "zero": false}}}},
  {"data": {"name": "b2"}, "mark": {"type": "tick", "color": "#c6c6c6", "size": 40, "thickness": 1.5},
   "encoding": {"y": {"field": "hi", "type": "quantitative", "scale": {"domain": [-0.35, 0.3], "nice": false, "zero": false}}}},
  {"data": {"name": "b2"}, "mark": {"type": "bar", "size": 83, "fill": "#8b91dc", "stroke": "#c4c4c4", "strokeWidth": 1.5},
   "encoding": {"x": {"field": "genotype", "type": "nominal", "scale": {"type": "band", "domain": ["Homo Ref", "Het", "Homo Alt"], "paddingInner": 0, "paddingOuter": 0.05},
     "axis": {"orient": "bottom", "title": null, "labelExpr": "datum.value == 'Homo Ref' ? ['Homo Ref', 'N = 14'] : (datum.value == 'Het' ? ['Het', 'N = 29'] : ['Homo Alt', 'N = 106'])", "labelAngle": 0, "labelFont": "Liberation Sans", "labelFontSize": 13.5, "labelLineHeight": 15, "labelColor": "#222", "labelOffset": -10, "labelPadding": 6, "tickSize": 5, "tickWidth": 2, "tickColor": "black", "domainColor": "black", "domainWidth": 2}},
    "y": {"field": "q1", "type": "quantitative", "scale": {"domain": [-0.35, 0.3], "nice": false, "zero": false},
     "axis": {"title": "Rank Normalized Gene Expression", "values": [-0.3, -0.2, -0.1, 0, 0.1, 0.2, 0.3], "labelOverlap": false, "labelExpr": "abs(datum.value) < 0.000001 ? '-0.0' : (abs(datum.value * 10 - round(datum.value * 10)) > 0.000001 ? '' : (datum.value < 0 ? '-' : '') + format(abs(datum.value), '.1f'))", "labelFont": "Liberation Sans", "labelFontSize": 13.5, "labelColor": "#222", "labelPadding": 2, "tickSize": 5, "tickWidth": 1.5, "tickColor": "black", "domainColor": "black", "domainWidth": 2, "titleFont": "Liberation Sans", "titleFontSize": 12.5, "titleFontWeight": "normal", "titleColor": "#222", "titlePadding": 26}},
    "y2": {"field": "q3"}}},
  {"data": {"name": "b2"}, "mark": {"type": "tick", "color": "black", "size": 83, "thickness": 2.5},
   "encoding": {"y": {"field": "median", "type": "quantitative", "scale": {"domain": [-0.35, 0.3], "nice": false, "zero": false}}}},
  {"data": {"name": "p2"}, "mark": {"type": "point", "filled": false, "color": "#a4a4a4", "size": 20, "strokeWidth": 0.9, "opacity": 1},
   "encoding": {"y": {"field": "expression", "type": "quantitative", "scale": {"domain": [-0.35, 0.3], "nice": false, "zero": false}},
    "xOffset": {"field": "jitter", "type": "quantitative", "scale": {"domain": [-46, 46], "range": [0, 92]}}}}
 ],
 "resolve": {"axis": {"x": "independent"}}}
],
"spacing": 51, "bounds": "flush", "center": true
},
{
"vconcat": [
{"width": 110, "height": 88, "data": {"name": "h3"},
 "title": {"text": "SAMD11", "frame": "group", "anchor": "middle", "font": "Lato", "fontSize": 41, "fontStyle": "italic", "fontWeight": "normal", "color": "black", "offset": 20},
 "layer": [
  {"mark": {"type": "rect", "fill": "transparent", "stroke": "black", "strokeWidth": 2}, "encoding": {}},
  {"mark": {"type": "text", "font": "Lato", "fontSize": 24, "fontStyle": "italic", "align": "left", "baseline": "middle", "dx": -45, "dy": -15, "color": "black"}, "encoding": {"text": {"field": "plabel"}}},
  {"mark": {"type": "text", "font": "Lato", "fontSize": 24, "align": "left", "baseline": "middle", "dx": -30, "dy": -15, "color": "black"}, "encoding": {"text": {"field": "pvalue"}}},
  {"mark": {"type": "text", "font": "Lato", "fontSize": 24, "align": "center", "baseline": "middle", "dy": 17, "color": "black"}, "encoding": {"text": {"field": "beta"}}}
 ]},
{"width": 286, "height": 247,
 "title": {"text": "Pancreas eQTL rs13303010 ENSG00000187634.6", "frame": "group", "anchor": "middle", "font": "Liberation Sans", "fontSize": 9.5, "fontWeight": "normal", "color": "#222", "offset": 21},
 "encoding": {"x": {"field": "genotype", "type": "nominal", "scale": {"type": "band", "domain": ["Homo Ref", "Het", "Homo Alt"], "paddingInner": 0, "paddingOuter": 0.05}, "axis": null}},
 "layer": [
  {"data": {"name": "b3"}, "mark": {"type": "rule", "color": "#c6c6c6", "strokeWidth": 1.5},
   "encoding": {"x": {"field": "genotype", "type": "nominal", "scale": {"type": "band", "domain": ["Homo Ref", "Het", "Homo Alt"], "paddingInner": 0, "paddingOuter": 0.05},
     "axis": {"orient": "bottom", "title": "rs13303010", "labelExpr": "datum.value == 'Homo Ref' ? 'GG' : ''", "labelAngle": 0, "labelFont": "Lato", "labelFontSize": 30, "labelColor": "red", "labelOffset": -8, "labelPadding": 2, "ticks": false, "tickSize": 0, "domain": false, "offset": 37, "titleFont": "Lato", "titleFontSize": 23.5, "titleFontWeight": "normal", "titleColor": "black", "titlePadding": -8}},
    "y": {"field": "lo", "type": "quantitative", "scale": {"domain": [-0.35, 0.25], "nice": false, "zero": false}}, "y2": {"field": "hi"}}},
  {"data": {"name": "b3"}, "mark": {"type": "tick", "color": "#c6c6c6", "size": 40, "thickness": 1.5},
   "encoding": {"y": {"field": "lo", "type": "quantitative", "scale": {"domain": [-0.35, 0.25], "nice": false, "zero": false}}}},
  {"data": {"name": "b3"}, "mark": {"type": "tick", "color": "#c6c6c6", "size": 40, "thickness": 1.5},
   "encoding": {"y": {"field": "hi", "type": "quantitative", "scale": {"domain": [-0.35, 0.25], "nice": false, "zero": false}}}},
  {"data": {"name": "b3"}, "mark": {"type": "bar", "size": 83, "fill": "#8b91dc", "stroke": "#c4c4c4", "strokeWidth": 1.5},
   "encoding": {"x": {"field": "genotype", "type": "nominal", "scale": {"type": "band", "domain": ["Homo Ref", "Het", "Homo Alt"], "paddingInner": 0, "paddingOuter": 0.05},
     "axis": {"orient": "bottom", "title": null, "labelExpr": "datum.value == 'Homo Ref' ? ['Homo Ref', 'N = 14'] : (datum.value == 'Het' ? ['Het', 'N = 29'] : ['Homo Alt', 'N = 106'])", "labelAngle": 0, "labelFont": "Liberation Sans", "labelFontSize": 13.5, "labelLineHeight": 15, "labelColor": "#222", "labelOffset": -10, "labelPadding": 6, "tickSize": 5, "tickWidth": 2, "tickColor": "black", "domainColor": "black", "domainWidth": 2}},
    "y": {"field": "q1", "type": "quantitative", "scale": {"domain": [-0.35, 0.25], "nice": false, "zero": false},
     "axis": {"title": "Rank Normalized Gene Expression", "values": [-0.3, -0.2, -0.1, 0, 0.1, 0.2, 0.25], "labelOverlap": false, "labelExpr": "abs(datum.value) < 0.000001 ? '-0.0' : (abs(datum.value * 10 - round(datum.value * 10)) > 0.000001 ? '' : (datum.value < 0 ? '-' : '') + format(abs(datum.value), '.1f'))", "labelFont": "Liberation Sans", "labelFontSize": 13.5, "labelColor": "#222", "labelPadding": 2, "tickSize": 5, "tickWidth": 1.5, "tickColor": "black", "domainColor": "black", "domainWidth": 2, "titleFont": "Liberation Sans", "titleFontSize": 12.5, "titleFontWeight": "normal", "titleColor": "#222", "titlePadding": 26}},
    "y2": {"field": "q3"}}},
  {"data": {"name": "b3"}, "mark": {"type": "tick", "color": "black", "size": 83, "thickness": 2.5},
   "encoding": {"y": {"field": "median", "type": "quantitative", "scale": {"domain": [-0.35, 0.25], "nice": false, "zero": false}}}},
  {"data": {"name": "p3"}, "mark": {"type": "point", "filled": false, "color": "#a4a4a4", "size": 20, "strokeWidth": 0.9, "opacity": 1},
   "encoding": {"y": {"field": "expression", "type": "quantitative", "scale": {"domain": [-0.35, 0.25], "nice": false, "zero": false}},
    "xOffset": {"field": "jitter", "type": "quantitative", "scale": {"domain": [-46, 46], "range": [0, 92]}}}}
 ],
 "resolve": {"axis": {"x": "independent"}}}
],
"spacing": 51, "bounds": "flush", "center": true
},
{
"vconcat": [
{"width": 110, "height": 88, "data": {"name": "h4"},
 "title": {"text": "DVL1", "frame": "group", "anchor": "middle", "font": "Lato", "fontSize": 41, "fontStyle": "italic", "fontWeight": "normal", "color": "black", "offset": 20},
 "layer": [
  {"mark": {"type": "rect", "fill": "transparent", "stroke": "black", "strokeWidth": 2}, "encoding": {}},
  {"mark": {"type": "text", "font": "Lato", "fontSize": 24, "fontStyle": "italic", "align": "left", "baseline": "middle", "dx": -45, "dy": -15, "color": "black"}, "encoding": {"text": {"field": "plabel"}}},
  {"mark": {"type": "text", "font": "Lato", "fontSize": 24, "align": "left", "baseline": "middle", "dx": -30, "dy": -15, "color": "black"}, "encoding": {"text": {"field": "pvalue"}}},
  {"mark": {"type": "text", "font": "Lato", "fontSize": 24, "align": "center", "baseline": "middle", "dy": 17, "color": "black"}, "encoding": {"text": {"field": "beta"}}}
 ]},
{"width": 286, "height": 247,
 "title": {"text": "Pancreas eQTL rs13303010 ENSG00000107404.13", "frame": "group", "anchor": "middle", "font": "Liberation Sans", "fontSize": 9.5, "fontWeight": "normal", "color": "#222", "offset": 21},
 "encoding": {"x": {"field": "genotype", "type": "nominal", "scale": {"type": "band", "domain": ["Homo Ref", "Het", "Homo Alt"], "paddingInner": 0, "paddingOuter": 0.05}, "axis": null}},
 "layer": [
  {"data": {"name": "b4"}, "mark": {"type": "rule", "color": "#c6c6c6", "strokeWidth": 1.5},
   "encoding": {"x": {"field": "genotype", "type": "nominal", "scale": {"type": "band", "domain": ["Homo Ref", "Het", "Homo Alt"], "paddingInner": 0, "paddingOuter": 0.05},
     "axis": {"orient": "bottom", "title": "rs13303010", "labelExpr": "datum.value == 'Homo Ref' ? 'GG' : ''", "labelAngle": 0, "labelFont": "Lato", "labelFontSize": 30, "labelColor": "red", "labelOffset": -8, "labelPadding": 2, "ticks": false, "tickSize": 0, "domain": false, "offset": 37, "titleFont": "Lato", "titleFontSize": 23.5, "titleFontWeight": "normal", "titleColor": "black", "titlePadding": -8}},
    "y": {"field": "lo", "type": "quantitative", "scale": {"domain": [-0.3, 0.3], "nice": false, "zero": false}}, "y2": {"field": "hi"}}},
  {"data": {"name": "b4"}, "mark": {"type": "tick", "color": "#c6c6c6", "size": 40, "thickness": 1.5},
   "encoding": {"y": {"field": "lo", "type": "quantitative", "scale": {"domain": [-0.3, 0.3], "nice": false, "zero": false}}}},
  {"data": {"name": "b4"}, "mark": {"type": "tick", "color": "#c6c6c6", "size": 40, "thickness": 1.5},
   "encoding": {"y": {"field": "hi", "type": "quantitative", "scale": {"domain": [-0.3, 0.3], "nice": false, "zero": false}}}},
  {"data": {"name": "b4"}, "mark": {"type": "bar", "size": 83, "fill": "#8b91dc", "stroke": "#c4c4c4", "strokeWidth": 1.5},
   "encoding": {"x": {"field": "genotype", "type": "nominal", "scale": {"type": "band", "domain": ["Homo Ref", "Het", "Homo Alt"], "paddingInner": 0, "paddingOuter": 0.05},
     "axis": {"orient": "bottom", "title": null, "labelExpr": "datum.value == 'Homo Ref' ? ['Homo Ref', 'N = 14'] : (datum.value == 'Het' ? ['Het', 'N = 29'] : ['Homo Alt', 'N = 106'])", "labelAngle": 0, "labelFont": "Liberation Sans", "labelFontSize": 13.5, "labelLineHeight": 15, "labelColor": "#222", "labelOffset": -10, "labelPadding": 6, "tickSize": 5, "tickWidth": 2, "tickColor": "black", "domainColor": "black", "domainWidth": 2}},
    "y": {"field": "q1", "type": "quantitative", "scale": {"domain": [-0.3, 0.3], "nice": false, "zero": false},
     "axis": {"title": "Rank Normalized Gene Expression", "values": [-0.3, -0.2, -0.1, 0, 0.1, 0.2, 0.3], "labelOverlap": false, "labelExpr": "abs(datum.value) < 0.000001 ? '-0.0' : (abs(datum.value * 10 - round(datum.value * 10)) > 0.000001 ? '' : (datum.value < 0 ? '-' : '') + format(abs(datum.value), '.1f'))", "labelFont": "Liberation Sans", "labelFontSize": 13.5, "labelColor": "#222", "labelPadding": 2, "tickSize": 5, "tickWidth": 1.5, "tickColor": "black", "domainColor": "black", "domainWidth": 2, "titleFont": "Liberation Sans", "titleFontSize": 12.5, "titleFontWeight": "normal", "titleColor": "#222", "titlePadding": 26}},
    "y2": {"field": "q3"}}},
  {"data": {"name": "b4"}, "mark": {"type": "tick", "color": "black", "size": 83, "thickness": 2.5},
   "encoding": {"y": {"field": "median", "type": "quantitative", "scale": {"domain": [-0.3, 0.3], "nice": false, "zero": false}}}},
  {"data": {"name": "p4"}, "mark": {"type": "point", "filled": false, "color": "#a4a4a4", "size": 20, "strokeWidth": 0.9, "opacity": 1},
   "encoding": {"y": {"field": "expression", "type": "quantitative", "scale": {"domain": [-0.3, 0.3], "nice": false, "zero": false}},
    "xOffset": {"field": "jitter", "type": "quantitative", "scale": {"domain": [-46, 46], "range": [0, 92]}}}}
 ],
 "resolve": {"axis": {"x": "independent"}}}
],
"spacing": 51, "bounds": "flush", "center": true
}
]
}
